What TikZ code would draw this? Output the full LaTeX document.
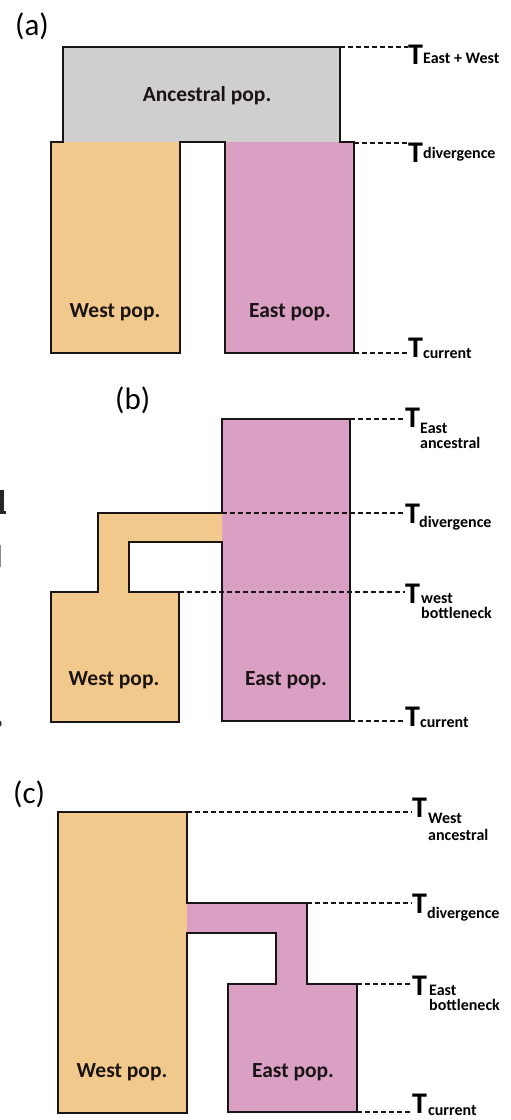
\documentclass[tikz,border=0pt]{standalone}
\usepackage{fontspec}
\setmainfont{Carlito}
\definecolor{westC}{HTML}{F2C98D}
\definecolor{eastC}{HTML}{D9A0C4}
\definecolor{ancC}{HTML}{D0CFCF}
\definecolor{inkC}{HTML}{1A1414}
\begin{document}
\begin{tikzpicture}[x=1pt,y=-1pt,
  outline/.style={draw=inkC,line width=1.6pt,line join=miter},
  tdash/.style={draw=inkC,line width=1.3pt,dash pattern=on 5pt off 3pt},
  tT/.style={inner sep=0pt,anchor=base west,text=black,font=\fontsize{30}{31}\selectfont\bfseries},
  tsub/.style={inner sep=0pt,anchor=base west,text=black,font=\fontsize{16}{18}\selectfont\bfseries},
  poplab/.style={inner sep=0pt,anchor=base,text=inkC,font=\fontsize{21.5}{24}\selectfont\bfseries},
  panel/.style={inner sep=0pt,anchor=base west,text=black,font=\fontsize{31}{33}\selectfont}]
\useasboundingbox (0,0) rectangle (511,1120);
\fill[white] (0,0) rectangle (511,1120);

% left-edge cropped glyph fragments (drawn as shapes)
\fill[black!85] (0,490) rectangle (4,512);
\fill[black!85] (0,511) rectangle (6,513.5);
\fill[black!45] (0,545) rectangle (1.3,567);
\draw[black!80,line width=1.4pt] (0,721) arc[start angle=40,end angle=-40,radius=4pt];

%================ (a) ================
\node[panel] (labA) at (15,35) {(a)};
\fill[ancC] (63,47) rectangle (340,142);
\fill[westC] (51,142) rectangle (180,353);
\fill[eastC] (225,142) rectangle (354,353);
\draw[outline] (63,47) -- (340,47) -- (340,142) -- (354,142) -- (354,353) -- (225,353)
  -- (225,142) -- (180,142) -- (180,353) -- (51,353) -- (51,142) -- (63,142) -- cycle;
\node[poplab] (ancA) at (207,101) {Ancestral pop.};
\node[poplab] (westA) at (115,317) {West pop.};
\node[poplab] (eastA) at (290,317) {East pop.};
\coordinate (aTop) at (340,47);
\coordinate (aDiv) at (354,143);
\coordinate (aCur) at (354,353);
\node[tT] (tA1) at (408,64) {T};
\node[tsub] (sA1) at (423,63) {East + West};
\node[tT] (tA2) at (408,162) {T};
\node[tsub] (sA2) at (423,158) {divergence};
\node[tT] (tA3) at (408,357) {T};
\node[tsub] (sA3) at (423,358) {current};
\draw[tdash] (aTop) -- (aTop -| tA1.west);
\draw[tdash] (aDiv) -- (aDiv -| tA2.west);
\draw[tdash] (aCur) -- (aCur -| tA3.west);

%================ (b) ================
\node[panel] (labB) at (115,409) {(b)};
\fill[eastC] (222,419) rectangle (350,721);
\fill[westC] (98,513) -- (222,513) -- (222,542) -- (129,542) -- (129,592) -- (179,592)
  -- (179,722) -- (51,722) -- (51,592) -- (98,592) -- cycle;
\draw[outline] (222,513) -- (222,419) -- (350,419) -- (350,721) -- (222,721) -- (222,542)
  -- (129,542) -- (129,592) -- (179,592) -- (179,722) -- (51,722) -- (51,592) -- (98,592)
  -- (98,513) -- cycle;
\node[poplab] (westB) at (114,685) {West pop.};
\node[poplab] (eastB) at (286,685) {East pop.};
\coordinate (bTop) at (350,419);
\coordinate (bDiv) at (222,513);
\coordinate (bBot) at (179,592);
\coordinate (bCur) at (350,721);
\node[tT] (tB1) at (405,427) {T};
\node[tsub] (sB1) at (420,433) {East};
\node[tsub] (sB1b) at (420,448) {ancestral};
\node[tT] (tB2) at (405,523) {T};
\node[tsub] (sB2) at (419,527) {divergence};
\node[tT] (tB3) at (405,603) {T};
\node[tsub] (sB3) at (421,603) {west};
\node[tsub] (sB3b) at (421,618) {bottleneck};
\node[tT] (tB4) at (405,726) {T};
\node[tsub] (sB4) at (420,727) {current};
\draw[tdash] (bTop) -- (bTop -| tB1.west);
\draw[tdash] (bDiv) -- (bDiv -| tB2.west);
\draw[tdash] (bBot) -- (bBot -| tB3.west);
\draw[tdash] (bCur) -- (bCur -| tB4.west);

%================ (c) ================
\node[panel] (labC) at (13,803) {(c)};
\fill[westC] (58,812) rectangle (187,1113);
\fill[eastC] (187,903) -- (307,903) -- (307,984) -- (357,984) -- (357,1112) -- (228,1112)
  -- (228,984) -- (276,984) -- (276,933) -- (187,933) -- cycle;
\draw[outline] (187,903) -- (187,812) -- (58,812) -- (58,1113) -- (187,1113) -- (187,933)
  -- (276,933) -- (276,984) -- (228,984) -- (228,1112) -- (357,1112) -- (357,984)
  -- (307,984) -- (307,903) -- cycle;
\node[poplab] (westC) at (122,1077) {West pop.};
\node[poplab] (eastC) at (293,1077) {East pop.};
\coordinate (cTop) at (187,812);
\coordinate (cDiv) at (307,903);
\coordinate (cBot) at (357,984);
\coordinate (cCur) at (357,1112);
\node[tT] (tC1) at (412,817) {T};
\node[tsub] (sC1) at (428,823) {West};
\node[tsub] (sC1b) at (428,840) {ancestral};
\node[tT] (tC2) at (412,913) {T};
\node[tsub] (sC2) at (427,918) {divergence};
\node[tT] (tC3) at (412,995) {T};
\node[tsub] (sC3) at (429,995) {East};
\node[tsub] (sC3b) at (429,1010) {bottleneck};
\node[tT] (tC4) at (412,1113) {T};
\node[tsub] (sC4) at (428,1115) {current};
\draw[tdash] (cTop) -- (cTop -| tC1.west);
\draw[tdash] (cDiv) -- (cDiv -| tC2.west);
\draw[tdash] (cBot) -- (cBot -| tC3.west);
\draw[tdash] (cCur) -- (cCur -| tC4.west);
\end{tikzpicture}
\end{document}
